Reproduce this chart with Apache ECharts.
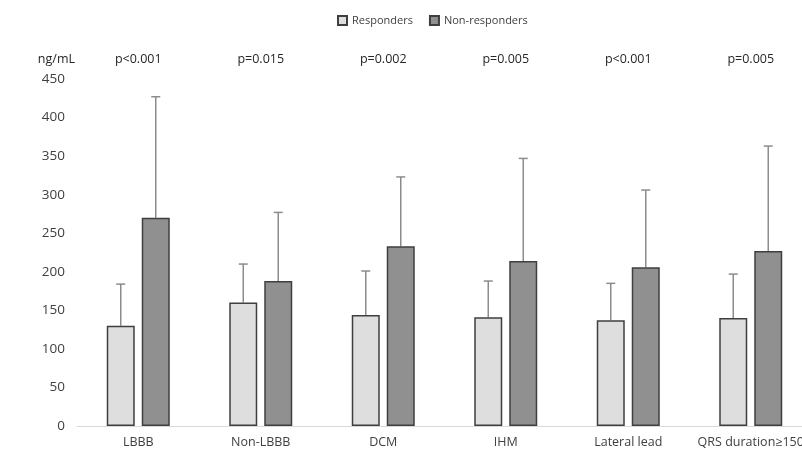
<!DOCTYPE html>
<html><head><meta charset="utf-8">
<script src="https://cdn.jsdelivr.net/npm/echarts@6/dist/echarts.min.js"></script>
<style>html,body{margin:0;padding:0;background:#fff;overflow:hidden}#c{width:812px;height:451px}</style>
</head><body><div id="c"></div>
<script>
const categories = ['LBBB','Non-LBBB','DCM','IHM','Lateral lead','QRS duration≥150'];
const responders = [130, 160, 144, 141, 137, 140];
const respondersSD = [54, 50, 57, 47, 48, 57];
const nonResponders = [270, 188, 233, 214, 206, 227];
const nonRespondersSD = [157, 89, 90, 133, 100, 136];
const pValues = ['p<0.001','p=0.015','p=0.002','p=0.005','p<0.001','p=0.005'];
const yTicks = [0, 50, 100, 150, 200, 250, 300, 350, 400, 450];

const FONT = 'Open Sans';
const chart = echarts.init(document.getElementById('c'));

function errSeries(name, means, sds, offset) {
  return {
    type: 'custom', name: name + ' err', silent: true, z: 1,
    data: means.map((m, i) => [i, m, m + sds[i]]),
    renderItem: function (params, api) {
      const x = api.coord([api.value(0), 0])[0] + offset;
      const y0 = api.coord([api.value(0), api.value(1)])[1];
      const y1 = api.coord([api.value(0), api.value(2)])[1];
      const st = { stroke: '#8c8c8c', lineWidth: 1.5 };
      return { type: 'group', children: [
        { type: 'line', shape: { x1: x, y1: y0, x2: x, y2: y1 }, style: st },
        { type: 'line', shape: { x1: x - 4.5, y1: y1, x2: x + 4.5, y2: y1 }, style: st }
      ]};
    }
  };
}

chart.setOption({
  animation: false,
  textStyle: { fontFamily: FONT },
  legend: {
    top: 10, left: 332, itemWidth: 9, itemHeight: 9, itemGap: 16,
    icon: 'rect',
    textStyle: { fontFamily: FONT, fontSize: 11, color: '#404040' },
    data: ['Responders', 'Non-responders']
  },
  grid: { left: 77, right: 0, top: 79, bottom: 25, containLabel: false },
  xAxis: [{
    type: 'category', data: categories,
    axisLine: { lineStyle: { color: '#d9d9d9', width: 1 } },
    axisTick: { show: false },
    axisLabel: { fontFamily: FONT, fontSize: 12.5, color: '#404040', margin: 10, interval: 0 }
  }, {
    type: 'category', data: pValues, position: 'top',
    axisLine: { show: false }, axisTick: { show: false },
    axisLabel: { fontFamily: FONT, fontSize: 12.5, color: '#262626', margin: 13, interval: 0 }
  }],
  yAxis: {
    type: 'value', min: 0, max: 450, interval: 50,
    name: 'ng/mL', nameLocation: 'end', nameGap: 13,
    nameTextStyle: { fontFamily: FONT, fontSize: 12.5, color: '#262626', align: 'right', padding: [0, 2, 0, 0] },
    axisLine: { show: false }, axisTick: { show: false },
    splitLine: { show: false },
    axisLabel: { fontFamily: FONT, fontSize: 13.5, color: '#404040', margin: 12,
      formatter: v => yTicks.includes(v) ? String(v) : '' }
  },
  series: [
    { name: 'Responders', type: 'bar', data: responders, barWidth: 28, barGap: '25%', z: 2,
      itemStyle: { color: '#dedede', borderColor: '#3f3f3f', borderWidth: 1.5 } },
    { name: 'Non-responders', type: 'bar', data: nonResponders, barWidth: 28, z: 2,
      itemStyle: { color: '#909090', borderColor: '#3f3f3f', borderWidth: 1.5 } },
    errSeries('Responders', responders, respondersSD, -17.5),
    errSeries('Non-responders', nonResponders, nonRespondersSD, 17.5)
  ]
});
</script></body></html>
